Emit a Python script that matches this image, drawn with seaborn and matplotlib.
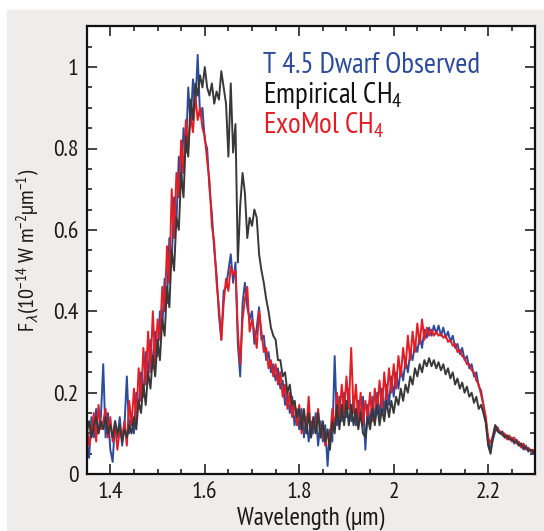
import numpy as np
import pandas as pd
import matplotlib
matplotlib.use('Agg')
import matplotlib.pyplot as plt
from matplotlib.patches import Rectangle
from matplotlib.ticker import MultipleLocator
import seaborn as sns

# wavelength grid: 1.35 .. 2.30 um, 0.005 um steps (one row below = 0.05 um)
wavelength = np.round(np.arange(1.35, 2.3001, 0.005), 3)

observed = [
    0.08, 0.04, 0.14, 0.09, 0.16, 0.10, 0.14, 0.27, 0.09, 0.15,
    0.06, 0.03, 0.13, 0.09, 0.14, 0.07, 0.12, 0.24, 0.10, 0.15,
    0.10, 0.20, 0.16, 0.25, 0.19, 0.30, 0.24, 0.33, 0.26, 0.35,
    0.29, 0.40, 0.36, 0.48, 0.42, 0.58, 0.52, 0.68, 0.62, 0.78,
    0.71, 0.85, 0.79, 0.95, 0.86, 0.97, 0.90, 1.03, 0.88, 0.90,
    0.82, 0.80, 0.70, 0.64, 0.55, 0.49, 0.39, 0.33, 0.45, 0.46,
    0.50, 0.54, 0.47, 0.52, 0.32, 0.24, 0.42, 0.47, 0.41, 0.38,
    0.40, 0.32, 0.36, 0.41, 0.33, 0.34, 0.28, 0.30, 0.25, 0.27,
    0.23, 0.26, 0.21, 0.23, 0.17, 0.20, 0.15, 0.19, 0.12, 0.16,
    0.11, 0.16, 0.09, 0.14, 0.08, 0.13, 0.10, 0.15, 0.07, 0.13,
    0.08, 0.12, 0.02, 0.11, 0.08, 0.29, 0.12, 0.19, 0.13, 0.20,
    0.14, 0.21, 0.13, 0.19, 0.12, 0.18, 0.14, 0.19, 0.06, 0.17,
    0.12, 0.19, 0.13, 0.20, 0.14, 0.21, 0.15, 0.22, 0.17, 0.24,
    0.19, 0.25, 0.21, 0.26, 0.23, 0.28, 0.25, 0.30, 0.28, 0.32,
    0.30, 0.34, 0.31, 0.355, 0.335, 0.36, 0.34, 0.365, 0.345, 0.365,
    0.34, 0.36, 0.335, 0.35, 0.325, 0.34, 0.31, 0.32, 0.295, 0.31,
    0.28, 0.29, 0.26, 0.27, 0.24, 0.25, 0.215, 0.205, 0.17, 0.13,
    0.08, 0.06, 0.085, 0.105, 0.115, 0.10, 0.105, 0.09, 0.095, 0.085,
    0.09, 0.075, 0.085, 0.07, 0.075, 0.06, 0.07, 0.055, 0.06, 0.05,
    0.055,
]

exomol = [
    0.12, 0.07, 0.10, 0.15, 0.08, 0.17, 0.11, 0.13, 0.16, 0.09,
    0.14, 0.08, 0.12, 0.06, 0.11, 0.09, 0.13, 0.07, 0.18, 0.12,
    0.21, 0.13, 0.26, 0.18, 0.31, 0.22, 0.35, 0.25, 0.40, 0.27,
    0.38, 0.33, 0.46, 0.40, 0.56, 0.47, 0.70, 0.58, 0.74, 0.68,
    0.82, 0.74, 0.87, 0.80, 0.88, 0.84, 0.93, 0.87, 0.90, 0.85,
    0.83, 0.77, 0.72, 0.61, 0.57, 0.47, 0.41, 0.33, 0.42, 0.48,
    0.45, 0.51, 0.49, 0.50, 0.35, 0.27, 0.38, 0.43, 0.46, 0.35,
    0.38, 0.35, 0.31, 0.40, 0.35, 0.30, 0.31, 0.26, 0.28, 0.24,
    0.27, 0.22, 0.25, 0.19, 0.22, 0.16, 0.20, 0.14, 0.18, 0.12,
    0.17, 0.10, 0.15, 0.11, 0.19, 0.09, 0.14, 0.11, 0.16, 0.09,
    0.12, 0.07, 0.10, 0.08, 0.16, 0.11, 0.20, 0.14, 0.22, 0.15,
    0.24, 0.16, 0.31, 0.15, 0.22, 0.13, 0.20, 0.12, 0.18, 0.14,
    0.20, 0.13, 0.21, 0.15, 0.23, 0.16, 0.25, 0.18, 0.26, 0.20,
    0.27, 0.21, 0.29, 0.24, 0.31, 0.26, 0.34, 0.28, 0.35, 0.30,
    0.37, 0.32, 0.38, 0.33, 0.36, 0.34, 0.355, 0.34, 0.35, 0.34,
    0.345, 0.335, 0.34, 0.325, 0.33, 0.315, 0.32, 0.30, 0.305, 0.29,
    0.285, 0.27, 0.27, 0.255, 0.25, 0.23, 0.22, 0.195, 0.17, 0.14,
    0.09, 0.075, 0.095, 0.12, 0.11, 0.105, 0.095, 0.10, 0.085, 0.095,
    0.08, 0.09, 0.075, 0.08, 0.065, 0.075, 0.06, 0.065, 0.055, 0.06,
    0.05,
]

empirical = [
    0.10, 0.13, 0.09, 0.12, 0.14, 0.10, 0.13, 0.11, 0.14, 0.10,
    0.12, 0.09, 0.13, 0.10, 0.12, 0.08, 0.11, 0.09, 0.12, 0.10,
    0.14, 0.11, 0.18, 0.15, 0.22, 0.17, 0.25, 0.21, 0.29, 0.24,
    0.33, 0.28, 0.38, 0.34, 0.46, 0.41, 0.55, 0.50, 0.63, 0.60,
    0.74, 0.68, 0.83, 0.78, 0.92, 0.87, 0.96, 0.93, 0.98, 0.95,
    1.00, 0.95, 0.93, 0.96, 0.91, 0.94, 0.92, 0.99, 0.95, 0.91,
    0.78, 0.96, 0.79, 0.86, 0.52, 0.66, 0.74, 0.69, 0.58, 0.63,
    0.61, 0.65, 0.63, 0.54, 0.50, 0.47, 0.43, 0.40, 0.36, 0.34,
    0.33, 0.28, 0.28, 0.24, 0.25, 0.20, 0.22, 0.17, 0.18, 0.14,
    0.16, 0.11, 0.16, 0.10, 0.15, 0.09, 0.14, 0.10, 0.15, 0.09,
    0.13, 0.08, 0.11, 0.06, 0.13, 0.10, 0.17, 0.11, 0.17, 0.12,
    0.18, 0.12, 0.17, 0.12, 0.16, 0.11, 0.15, 0.10, 0.09, 0.14,
    0.11, 0.16, 0.12, 0.17, 0.12, 0.16, 0.13, 0.18, 0.14, 0.18,
    0.15, 0.19, 0.17, 0.21, 0.18, 0.22, 0.20, 0.24, 0.22, 0.26,
    0.24, 0.27, 0.25, 0.28, 0.265, 0.285, 0.265, 0.28, 0.26, 0.275,
    0.255, 0.27, 0.245, 0.26, 0.235, 0.25, 0.22, 0.235, 0.21, 0.225,
    0.20, 0.215, 0.19, 0.20, 0.175, 0.19, 0.16, 0.17, 0.15, 0.125,
    0.07, 0.05, 0.09, 0.12, 0.105, 0.10, 0.10, 0.09, 0.095, 0.085,
    0.085, 0.08, 0.08, 0.07, 0.075, 0.065, 0.065, 0.06, 0.06, 0.055,
    0.05,
]

series_names = ['T 4.5 Dwarf Observed', 'ExoMol CH4', 'Empirical CH4']
colors = {'T 4.5 Dwarf Observed': '#2c4b9b',
          'ExoMol CH4': '#e31d25',
          'Empirical CH4': '#383838'}

assert len(observed) == len(exomol) == len(empirical) == len(wavelength)

df = pd.concat([
    pd.DataFrame({'wl': wavelength, 'flux': vals, 'series': name})
    for name, vals in zip(series_names, [observed, exomol, empirical])
])

sns.set_theme(style='ticks')
font = ['PT Sans Narrow', 'DejaVu Sans']
plt.rcParams['font.family'] = font
plt.rcParams['mathtext.fontset'] = 'custom'
plt.rcParams['mathtext.rm'] = font[0]
plt.rcParams['mathtext.it'] = font[0]
plt.rcParams['mathtext.fallback'] = 'stixsans'

fig = plt.figure(figsize=(5.44, 5.31), dpi=100)
fig.patches.append(Rectangle((6.9 / 544, 0), 1, 1 - 10.2 / 531,
                             transform=fig.transFigure, color='#eeedeb', zorder=-10))
ax = fig.add_axes([86.7 / 544, 56.9 / 531, 448.7 / 544, 447.7 / 531])
ax.set_facecolor('white')

sns.lineplot(data=df, x='wl', y='flux', hue='series', hue_order=series_names,
             palette=colors, estimator=None, sort=False, lw=1.4, legend=False, ax=ax)

ax.set_xlim(1.35, 2.3)
ax.set_ylim(0, 1.1)
ax.xaxis.set_minor_locator(MultipleLocator(0.05))
ax.yaxis.set_minor_locator(MultipleLocator(0.05))
ax.set_xticks([1.4, 1.6, 1.8, 2.0, 2.2])
ax.set_xticklabels(['1.4', '1.6', '1.8', '2', '2.2'])
ax.set_yticks([0, 0.2, 0.4, 0.6, 0.8, 1.0])
ax.set_yticklabels(['0', '0.2', '0.4', '0.6', '0.8', '1'])
ax.tick_params(which='both', direction='in', top=True, right=True, width=1.2,
               colors='#222222', labelsize=17, labelcolor='#1a1a1a')
ax.tick_params(which='major', length=7, pad=6)
ax.tick_params(which='minor', length=3.5)
for s in ax.spines.values():
    s.set_linewidth(1.6)
    s.set_color('#111111')

ax.set_xlabel('Wavelength (µm)', fontsize=18, color='#1a1a1a', labelpad=2)
ax.set_ylabel(r'F$_\lambda$(10$^{\mathrm{-14}}$ W m$^{\mathrm{-2}}$µm$^{\mathrm{-1}}$)',
              fontsize=16, color='#1a1a1a', labelpad=8)

ax.text(0.392, 0.896, 'T 4.5 Dwarf Observed', transform=ax.transAxes, va='baseline',
        fontsize=21, color=colors['T 4.5 Dwarf Observed'])
ax.text(0.392, 0.829, r'Empirical CH$_{\mathrm{4}}$', transform=ax.transAxes, va='baseline',
        fontsize=21, color='#111111')
ax.text(0.392, 0.760, r'ExoMol CH$_{\mathrm{4}}$', transform=ax.transAxes, va='baseline',
        fontsize=21, color=colors['ExoMol CH4'])

fig.savefig('out.png', dpi=100)
